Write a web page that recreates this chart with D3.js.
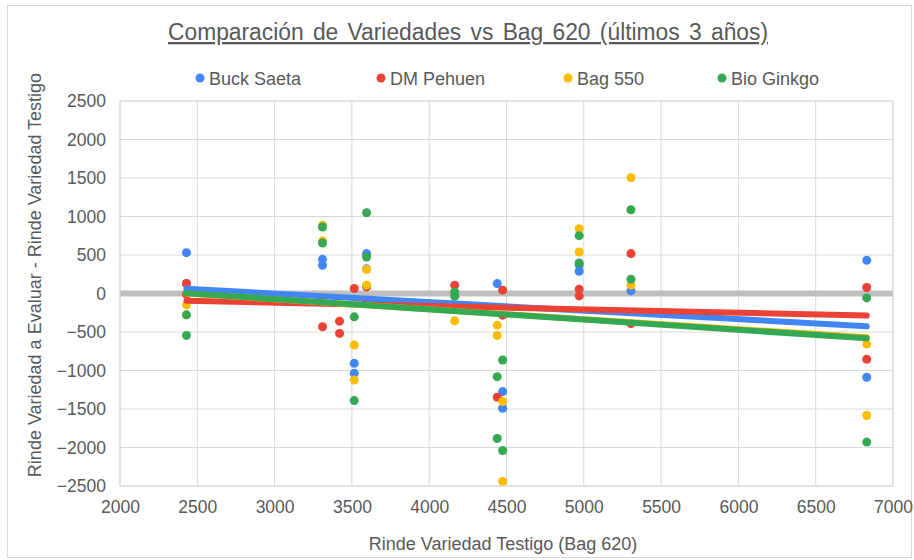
<!DOCTYPE html>
<html lang="es">
<head>
<meta charset="UTF-8"/>
<title>Comparación de Variedades vs Bag 620</title>
<script src="https://d3js.org/d3.v7.min.js"></script>
<style>
  body { margin: 0; background: #fff; }
  text { font-family: "Liberation Sans", Arial, sans-serif; fill: #595959; }
</style>
</head>
<body>
<script>
    var w = 914;
    var h = 560;

    var seriesNames = ["Buck Saeta", "DM Pehuen", "Bag 550", "Bio Ginkgo"];
    var seriesColors = ["#4285f4", "#ea4335", "#fbbc04", "#34a853"];

    // [rinde testigo, diferencia]
    var buckSaeta = [[2430,530],[2430,130],[3310,444],[3310,367],[3515,-907],[3515,-1036],[3595,518],
                     [3595,320],[4440,129],[4475,-1274],[4475,-1490],[4970,370],[4970,289],[5305,34],
                     [6830,431],[6830,-1088]];
    var dmPehuen = [[2430,130],[2430,-10],[3310,-65],[3310,-432],[3420,-359],[3420,-518],[3515,65],
                    [3595,86],[3595,-96],[4165,108],[4440,-1347],[4475,43],[4475,-281],[4970,56],
                    [4970,-31],[5305,518],[5305,-389],[6830,78],[6830,-855]];
    var bag550 = [[2430,-147],[2430,-277],[3310,885],[3310,681],[3515,-670],[3515,-1123],[3595,311],
                  [3595,108],[4165,-355],[4440,-411],[4440,-544],[4475,-1404],[4475,-2440],[4970,842],
                  [4970,539],[5305,1503],[5305,108],[6830,-657],[6830,-1585]];
    var bioGinkgo = [[2430,-277],[2430,-544],[3310,863],[3310,656],[3515,-303],[3515,-1391],[3595,1049],
                     [3595,474],[4165,21],[4165,-35],[4440,-1080],[4440,-1883],[4475,-864],[4475,-2039],
                     [4970,751],[4970,396],[5305,1088],[5305,185],[6830,-57],[6830,-1930]];

    var xTicks = [2000,2500,3000,3500,4000,4500,5000,5500,6000,6500,7000];
    var yTicks = [-2500,-2000,-1500,-1000,-500,0,500,1000,1500,2000,2500];

    var allSeries = [buckSaeta, dmPehuen, bag550, bioGinkgo];

    var plotLeft = 120, plotRight = 893, plotTop = 101, plotBottom = 486;

    var xScale = d3.scaleLinear().domain([2000,7000]).range([plotLeft,plotRight]);
    var yScale = d3.scaleLinear().domain([-2500,2500]).range([plotBottom,plotTop]);

    var svg = d3.select("body").append("svg")
                .attr("width", w)
                .attr("height", h);

    // outer frame
    svg.append("rect")
       .attr("x", 7.5).attr("y", 5.5)
       .attr("width", w - 10).attr("height", h - 8)
       .attr("fill", "none").attr("stroke", "#d9d9d9");

    // grid
    svg.append("g").selectAll("line")
       .data(yTicks).enter().append("line")
       .attr("x1", plotLeft).attr("x2", plotRight)
       .attr("y1", function(d){ return yScale(d); })
       .attr("y2", function(d){ return yScale(d); })
       .attr("stroke", "#d9d9d9").attr("stroke-width", 1);
    svg.append("g").selectAll("line")
       .data(xTicks).enter().append("line")
       .attr("y1", plotTop).attr("y2", plotBottom)
       .attr("x1", function(d){ return xScale(d); })
       .attr("x2", function(d){ return xScale(d); })
       .attr("stroke", "#d9d9d9").attr("stroke-width", 1);

    // zero line
    svg.append("line")
       .attr("x1", plotLeft).attr("x2", plotRight)
       .attr("y1", yScale(0)).attr("y2", yScale(0))
       .attr("stroke", "#bfbfbf").attr("stroke-width", 6);

    // tick labels
    var yAxis = d3.axisLeft(yScale).tickValues(yTicks).tickSize(0).tickPadding(14)
                  .tickFormat(d3.format("d"));
    var gy = svg.append("g").attr("transform", "translate(" + plotLeft + ",0)").call(yAxis);
    gy.select(".domain").remove();
    gy.selectAll("text").style("font-size", "17.5px").attr("fill", "#595959")
      .style("font-family", "'Liberation Sans', Arial, sans-serif");

    var xAxis = d3.axisBottom(xScale).tickValues(xTicks).tickSize(0).tickPadding(15)
                  .tickFormat(d3.format("d"));
    var gx = svg.append("g").attr("transform", "translate(0," + plotBottom + ")").call(xAxis);
    gx.select(".domain").remove();
    gx.selectAll("text").style("font-size", "17.5px").attr("fill", "#595959")
      .style("font-family", "'Liberation Sans', Arial, sans-serif");

    // points
    allSeries.forEach(function(data, i){
        svg.append("g").selectAll("circle")
           .data(data).enter().append("circle")
           .attr("cx", function(d){ return xScale(d[0]); })
           .attr("cy", function(d){ return yScale(d[1]); })
           .attr("r", 4.5)
           .attr("fill", seriesColors[i]);
    });

    // linear trend lines
    function trend(data){
        var mx = d3.mean(data, function(d){ return d[0]; });
        var my = d3.mean(data, function(d){ return d[1]; });
        var sxy = d3.sum(data, function(d){ return (d[0]-mx)*(d[1]-my); });
        var sxx = d3.sum(data, function(d){ return (d[0]-mx)*(d[0]-mx); });
        var b = sxy / sxx;
        var a = my - b*mx;
        var x0 = d3.min(data, function(d){ return d[0]; });
        var x1 = d3.max(data, function(d){ return d[0]; });
        return [[x0, a + b*x0], [x1, a + b*x1]];
    }
    allSeries.forEach(function(data, i){
        svg.append("path")
           .datum(trend(data))
           .attr("d", d3.line()
               .x(function(d){ return xScale(d[0]); })
               .y(function(d){ return yScale(d[1]); }))
           .attr("stroke", seriesColors[i])
           .attr("stroke-width", 6)
           .attr("stroke-linecap", "round")
           .attr("fill", "none");
    });

    // plot border
    svg.append("rect")
       .attr("x", plotLeft).attr("y", plotTop)
       .attr("width", plotRight - plotLeft).attr("height", plotBottom - plotTop)
       .attr("fill", "none").attr("stroke", "#d9d9d9");

    // title
    svg.append("text")
       .attr("x", 468).attr("y", 40)
       .attr("text-anchor", "middle")
       .style("font-size", "23px")
       .style("text-decoration", "underline")
       .attr("word-spacing", "3")
       .attr("textLength", 600)
       .attr("lengthAdjust", "spacingAndGlyphs")
       .text("Comparación de Variedades vs Bag 620 (últimos 3 años)");

    // legend
    var legendX = [200, 381, 568, 722];
    var legend = svg.append("g").selectAll("g")
        .data(seriesNames).enter().append("g")
        .attr("transform", function(d,i){ return "translate(" + legendX[i] + ",78)"; });
    legend.append("circle").attr("r", 4.5).attr("cx", 0).attr("cy", 0)
        .attr("fill", function(d,i){ return seriesColors[i]; });
    legend.append("text").attr("x", 9).attr("y", 6.5)
        .style("font-size", "18px")
        .text(function(d){ return d; });

    // axis titles
    svg.append("text")
       .attr("transform", "translate(41,275) rotate(-90)")
       .attr("text-anchor", "middle")
       .style("font-size", "18px")
       .text("Rinde Variedad a Evaluar - Rinde Variedad Testigo");

    svg.append("text")
       .attr("x", 503).attr("y", 550)
       .attr("text-anchor", "middle")
       .style("font-size", "18px")
       .text("Rinde Variedad Testigo (Bag 620)");
</script>
</body>
</html>
